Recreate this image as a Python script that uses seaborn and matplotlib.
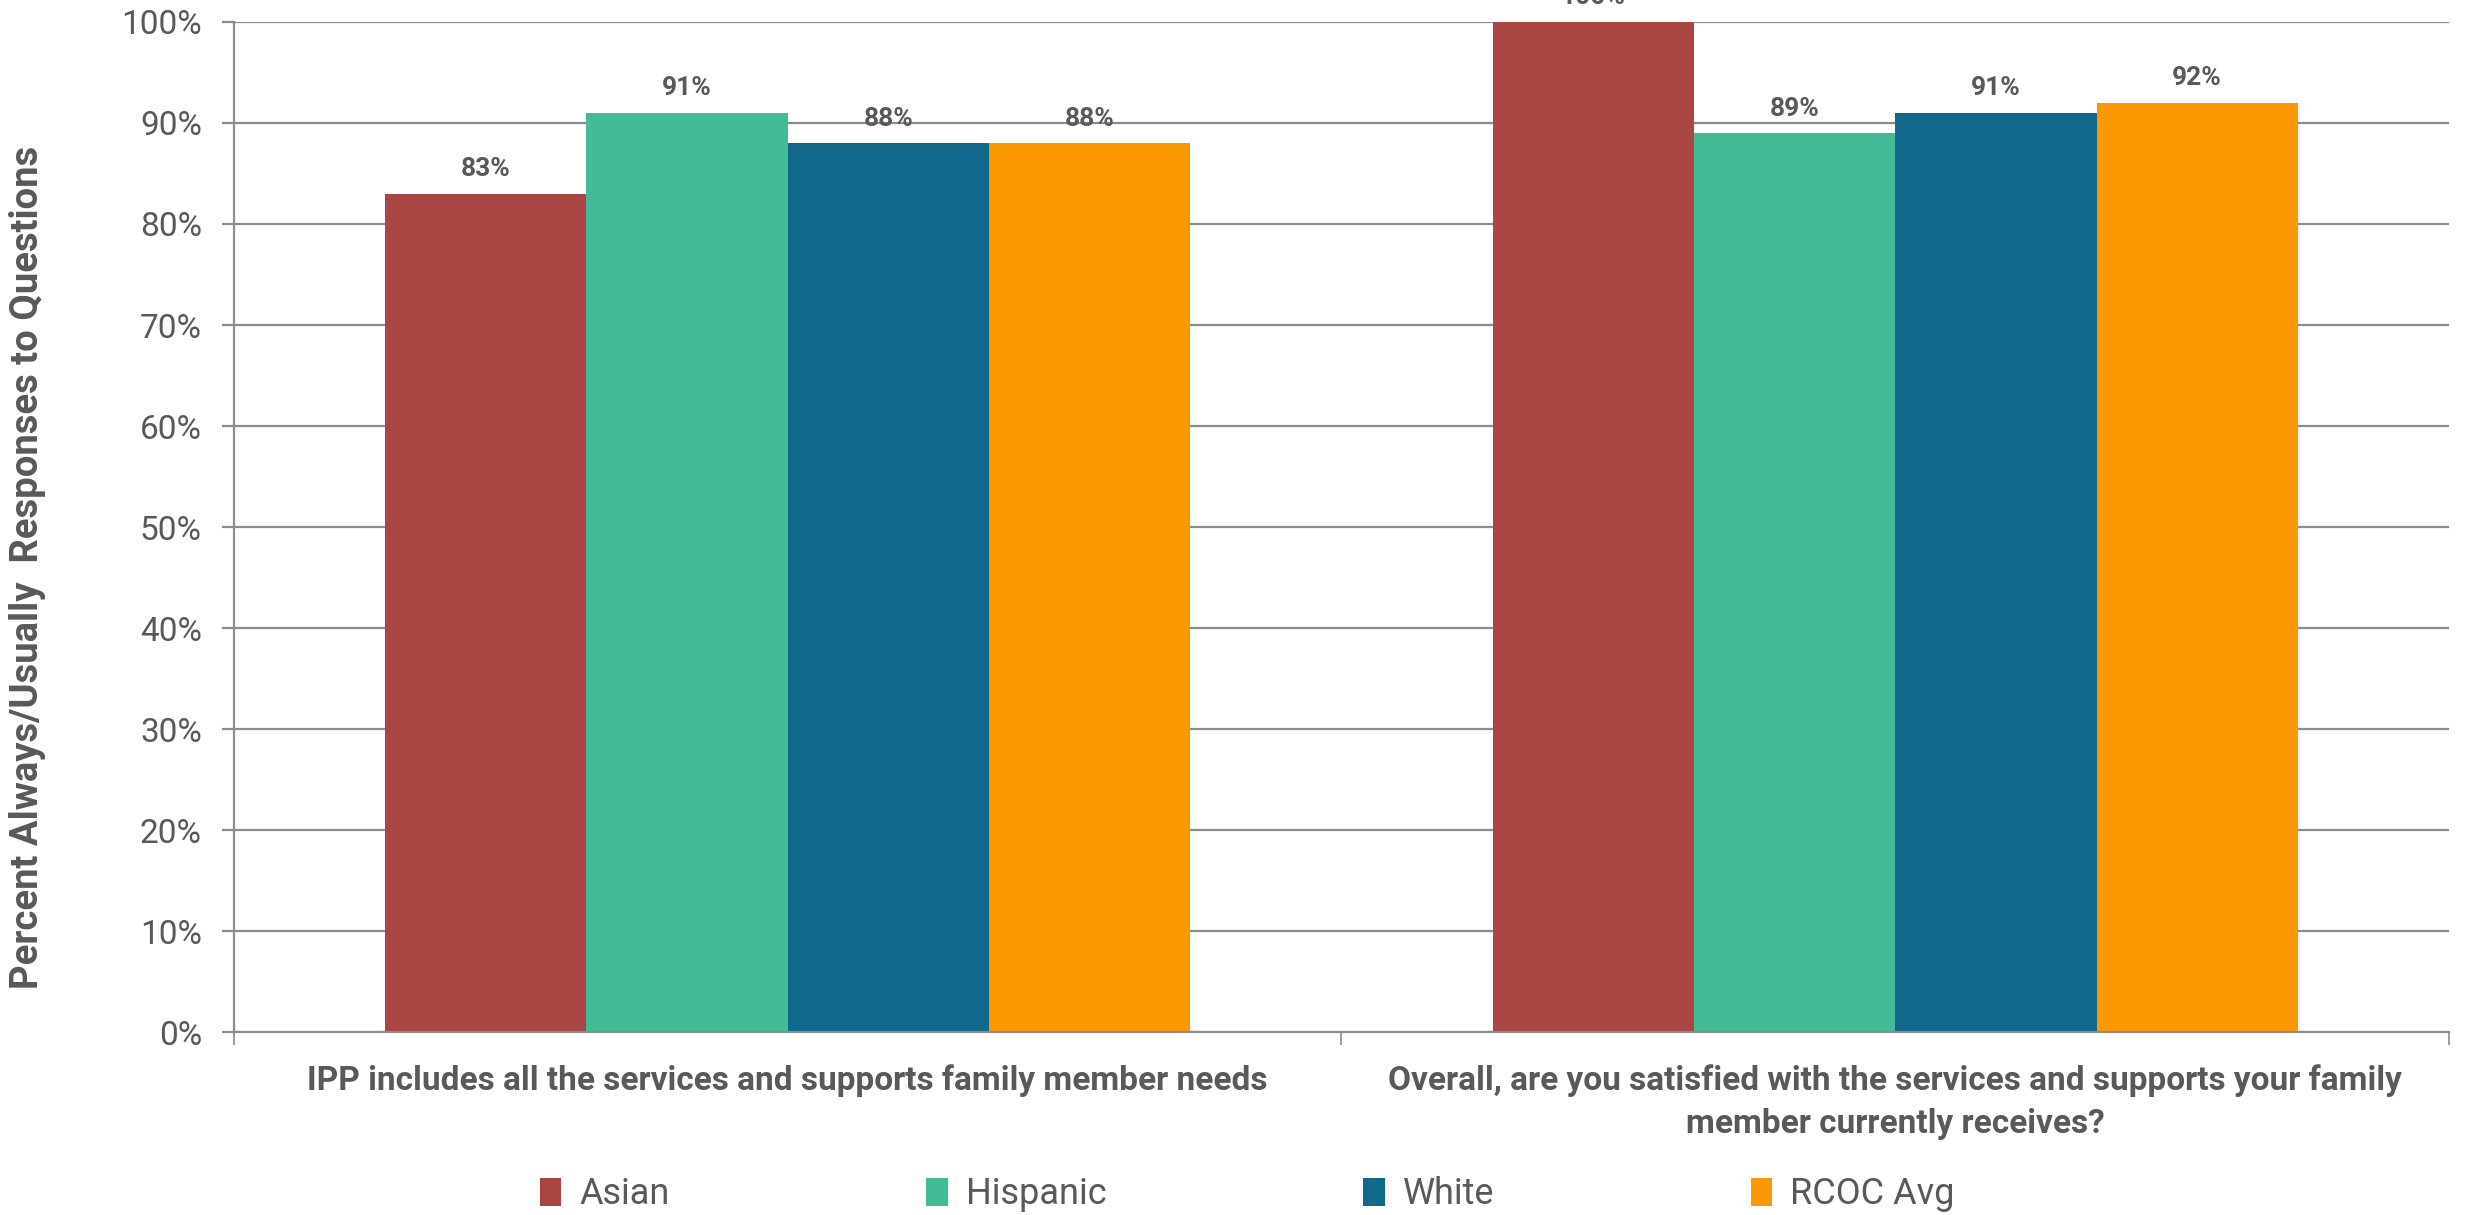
import matplotlib
matplotlib.use("Agg")
import matplotlib.pyplot as plt
import seaborn as sns
import pandas as pd
from matplotlib.ticker import PercentFormatter, FixedLocator, MultipleLocator

# Survey questions (x categories)
questions = [
    "IPP includes all the services and supports family member needs",
    "Overall, are you satisfied with the services and supports your family\nmember currently receives?",
]
# Respondent groups (hue)
groups = ["Asian", "Hispanic", "White", "RCOC Avg"]

# Percent Always/Usually per group, one value per question
asian = [83, 100]
hispanic = [91, 89]
white = [88, 91]
rcoc_avg = [88, 92]

colors = ["#A94643", "#43BA98", "#10688A", "#FC9900"]
text_gray = "#595959"
line_gray = "#8C8C8C"

series = [asian, hispanic, white, rcoc_avg]
rows = []
for g, vals in zip(groups, series):
    for q, v in zip(questions, vals):
        rows.append({"question": q, "group": g, "value": v})
df = pd.DataFrame(rows)

sns.set_theme(style="white")
plt.rcParams["font.family"] = ["Roboto", "DejaVu Sans"]

fig = plt.figure(figsize=(24.65, 12.15), dpi=100)
ax = fig.add_axes([0.0949, 0.1506, 0.8986, 0.8313])

sns.barplot(
    data=df, x="question", y="value", hue="group",
    order=questions, hue_order=groups, palette=colors,
    width=0.727, gap=0, saturation=1, errorbar=None,
    linewidth=0, ax=ax,
)

handles, labels = ax.get_legend_handles_labels()
ax.get_legend().remove()

# Value labels above bars
for cont in ax.containers:
    ax.bar_label(cont, fmt="%.0f%%", padding=9, fontsize=19,
                 fontweight="bold", color=text_gray)

ax.set_ylim(0, 100)
ax.set_xlim(-0.5, 1.5)
ax.yaxis.set_major_locator(MultipleLocator(10))
ax.yaxis.set_major_formatter(PercentFormatter(decimals=0))
ax.yaxis.grid(True, color=line_gray, linewidth=1.6)
ax.set_axisbelow(True)

for side in ["top", "right"]:
    ax.spines[side].set_visible(False)
for side in ["left", "bottom"]:
    ax.spines[side].set_color(line_gray)
    ax.spines[side].set_linewidth(1.6)

ax.set_xlabel("")
ax.set_ylabel("")
ax.xaxis.set_minor_locator(FixedLocator([-0.5, 0.5, 1.5]))
ax.tick_params(axis="x", which="major", length=0, pad=23, labelsize=24,
               labelcolor=text_gray)
ax.tick_params(axis="x", which="minor", length=9, width=1.2, color=line_gray,
               direction="out", bottom=True)
ax.tick_params(axis="y", which="major", length=9, width=1.6, color=line_gray,
               direction="out", left=True, pad=14, labelsize=24,
               labelcolor=text_gray)
for lbl in ax.get_xticklabels():
    lbl.set_fontweight("bold")
    lbl.set_linespacing(1.45)

fig.text(28 / 2465, 0.533, "Percent Always/Usually  Responses to Questions",
         rotation=90, ha="center", va="center", fontsize=27.5,
         fontweight="bold", color=text_gray)

leg = fig.legend(
    handles, labels, loc="center", bbox_to_anchor=(0.506, 0.017),
    ncol=4, frameon=False, fontsize=26, labelcolor=text_gray,
    handlelength=0.6, handleheight=0.8, handletextpad=0.5,
    columnspacing=7.1,
)

fig.savefig("out.png", dpi=100)
